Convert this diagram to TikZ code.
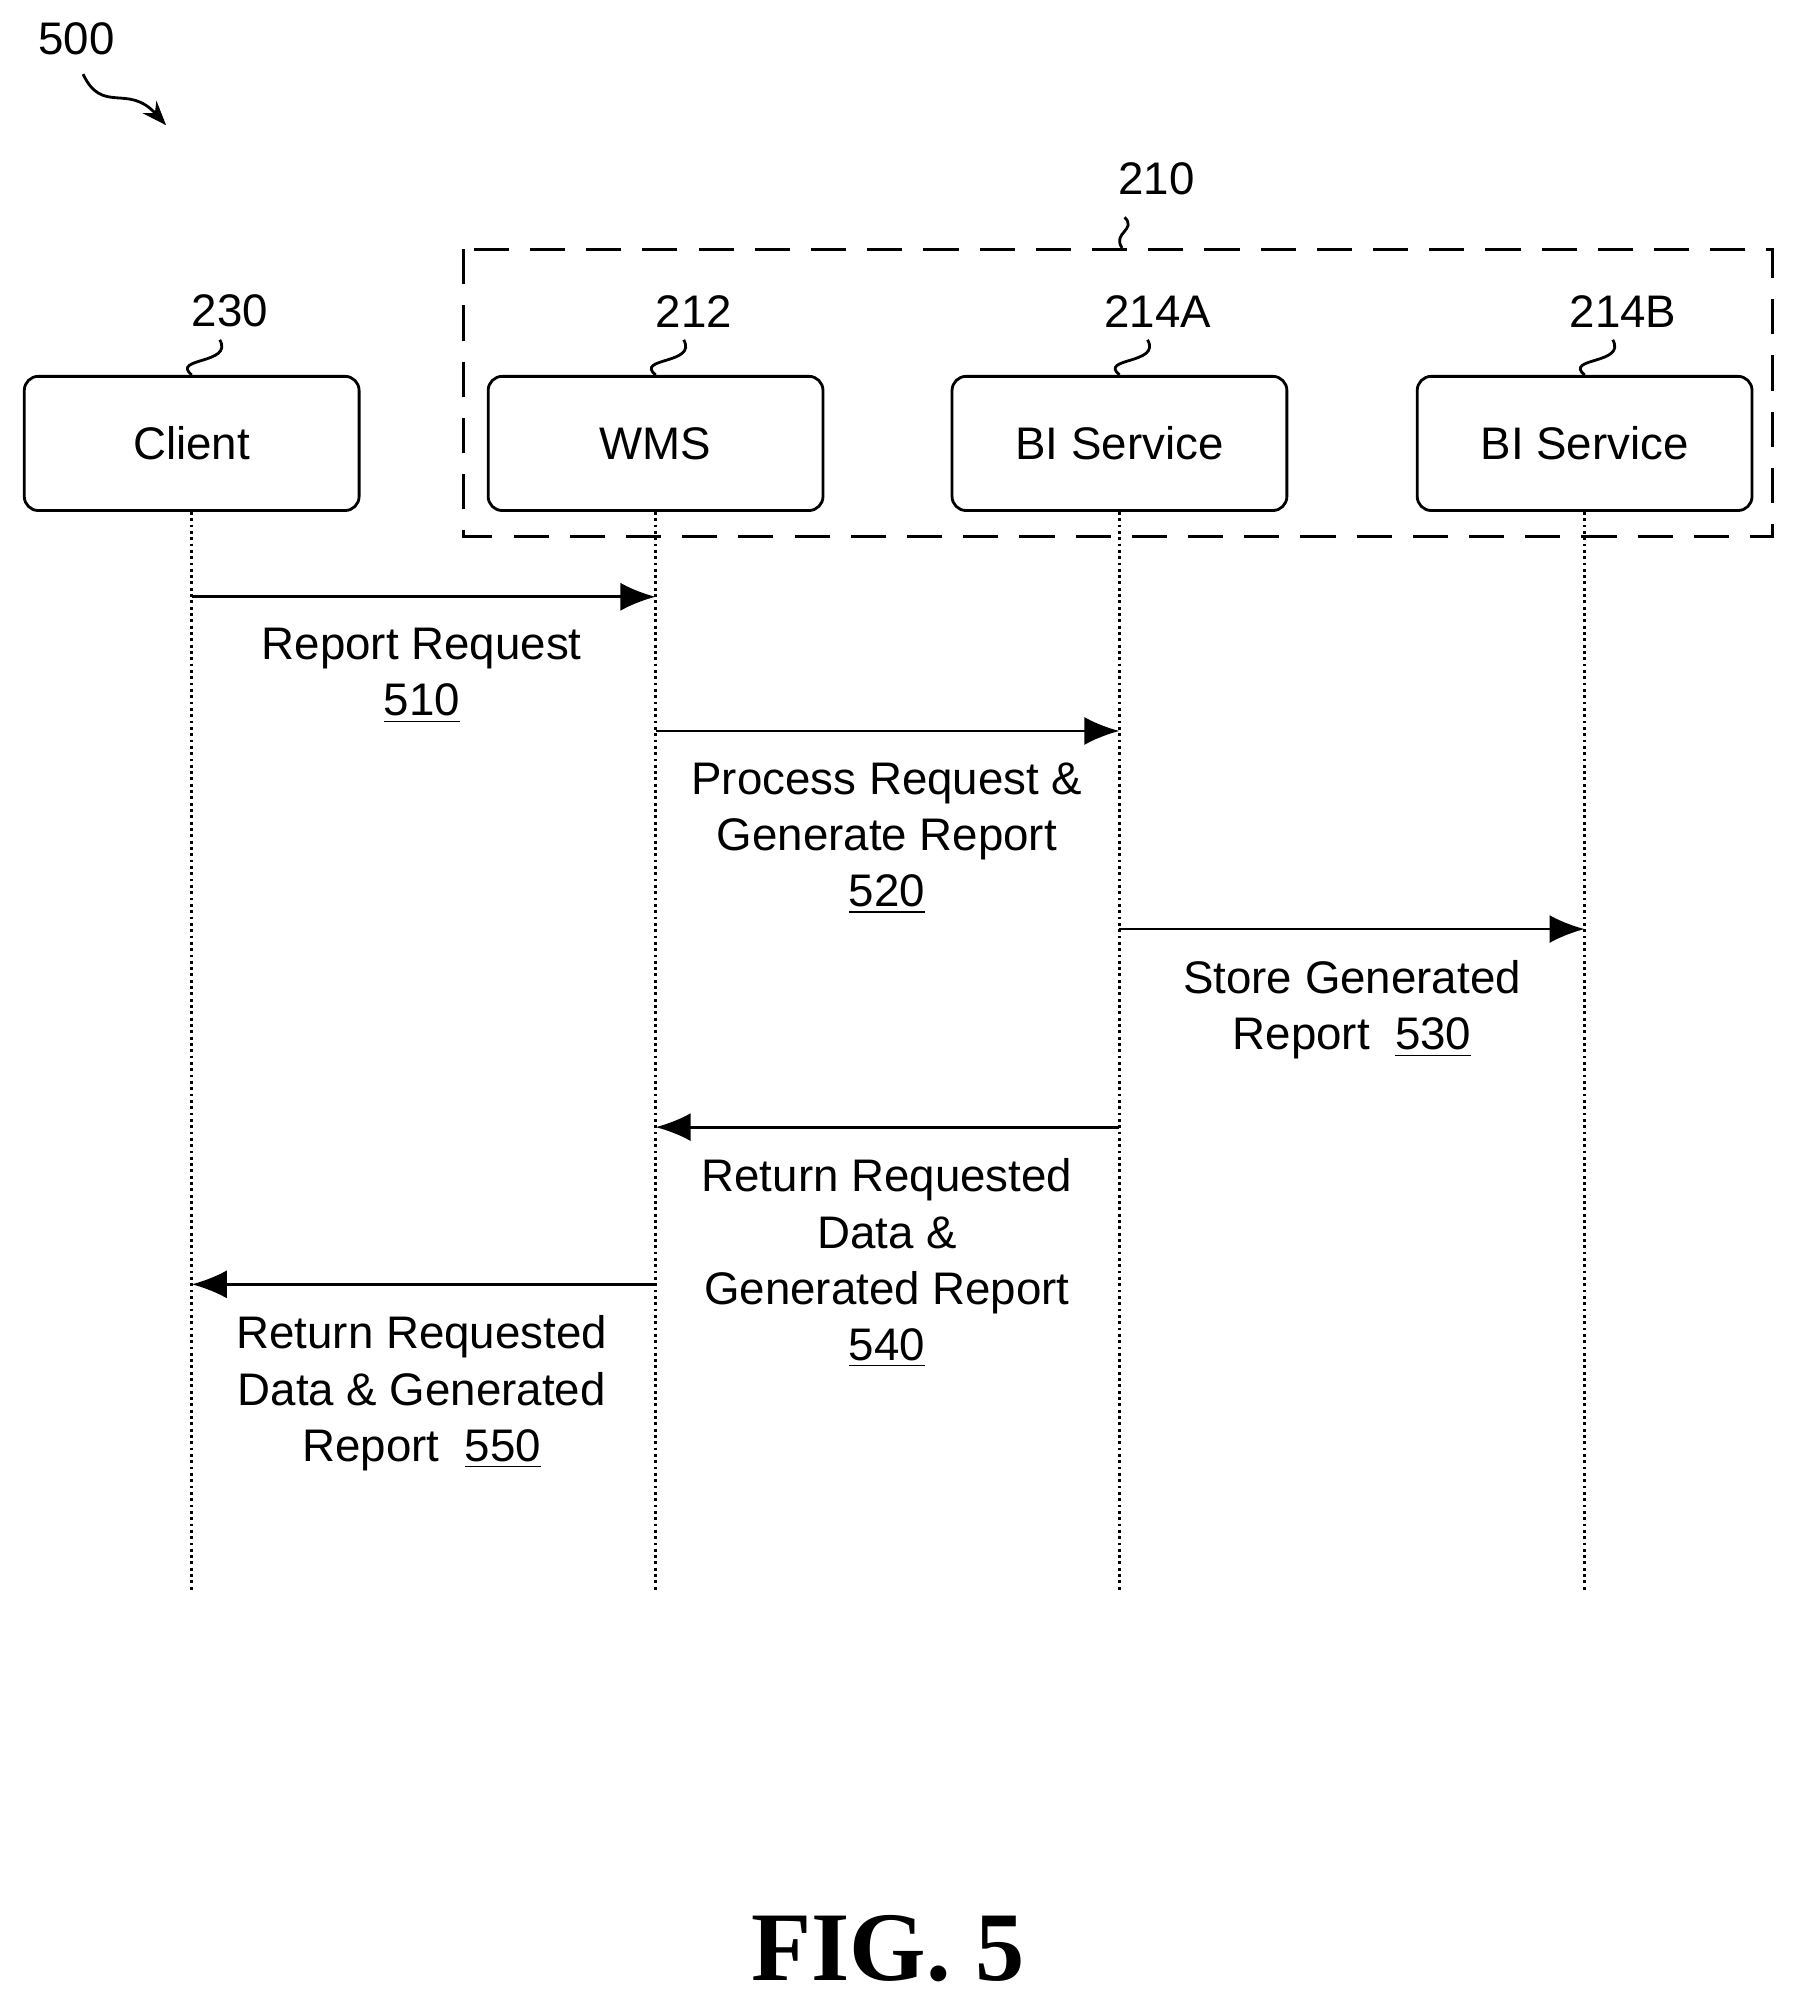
\documentclass[tikz,border=0pt]{standalone}
\usepackage{fontspec}
\setmainfont{Liberation Sans}
\newfontfamily\figfont{Liberation Serif}
\usetikzlibrary{arrows.meta, positioning}

\tikzset{
    actor/.style={draw, thick, rounded corners=4pt, minimum width=262*0.01278cm, minimum height=105*0.01278cm, font=\fontsize{13}{16}\selectfont},
    reflabel/.style={font=\fontsize{13}{16}\selectfont},
    msg/.style={align=center, font=\fontsize{13}{16}\selectfont},
    lifeline/.style={densely dotted, thick},
    call/.style={thick, -{Latex[length=10pt, width=8pt]}},
    squig/.style={thick}
}

\begin{document}
\begin{tikzpicture}[x=0.01278cm, y=-0.01278cm]
            \useasboundingbox (0,0) rectangle (1410,1576);

            % system boundary
            \draw[dashed, thick, dash pattern=on 10pt off 6pt] (363,195) rectangle (1387,420);
            \node (sys_label) [reflabel] at (905,140) {210};
            \draw[squig] (878,194) .. controls (870,182) and (890,180) .. (880,170);

            % actors
            \node (client) [actor] at (150,347) {Client};
            \node (wms) [actor] at (513,347) {WMS};
            \node (bi_a) [actor] at (876,347) {BI Service};
            \node (bi_b) [actor] at (1240,347) {BI Service};

            \foreach \n/\t in {client/230, wms/212, bi_a/214A, bi_b/214B} {
                \node (\n_ref) [reflabel, above=10pt of \n.north, xshift=30*0.01278cm] {\t};
                \draw[squig] (\n.north) .. controls ([xshift=-6pt, yshift=5pt]\n.north) and ([xshift=12pt, yshift=3pt]\n.north) .. ([xshift=8pt, yshift=10pt]\n.north);
            }

            % lifelines
            \coordinate (client_end) at (150,1245);
            \coordinate (wms_end) at (513,1245);
            \coordinate (bi_a_end) at (876,1245);
            \coordinate (bi_b_end) at (1240,1245);
            \draw[lifeline] (client) -- (client_end);
            \draw[lifeline] (wms) -- (wms_end);
            \draw[lifeline] (bi_a) -- (bi_a_end);
            \draw[lifeline] (bi_b) -- (bi_b_end);

            % messages
            \coordinate (m1s) at (150,467);  \coordinate (m1e) at (513,467);
            \coordinate (m2s) at (513,572);  \coordinate (m2e) at (876,572);
            \coordinate (m3s) at (876,727);  \coordinate (m3e) at (1240,727);
            \coordinate (m4s) at (876,882);  \coordinate (m4e) at (513,882);
            \coordinate (m5s) at (513,1005); \coordinate (m5e) at (150,1005);
            \draw[call] (m1s) -- (m1e);
            \draw[call] (m2s) -- (m2e);
            \draw[call] (m3s) -- (m3e);
            \draw[call] (m4s) -- (m4e);
            \draw[call] (m5s) -- (m5e);

            \node (txt510) [msg, anchor=north] at (330,482) {Report Request\\ \underline{510}};
            \node (txt520) [msg, anchor=north] at (694,587) {Process Request \&\\ Generate Report\\ \underline{520}};
            \node (txt530) [msg, anchor=north] at (1058,742) {Store Generated\\ Report\ \ \underline{530}};
            \node (txt540) [msg, anchor=north] at (694,897) {Return Requested\\ Data \&\\ Generated Report\\ \underline{540}};
            \node (txt550) [msg, anchor=north] at (330,1020) {Return Requested\\ Data \& Generated\\ Report\ \ \underline{550}};

            % figure number
            \node (fig_ref) [reflabel] at (60,30) {500};
            \coordinate (fig_arrow_end) at (130,98);
            \draw[squig, -{Stealth[length=7pt]}] (65,58) .. controls (80,90) and (100,65) .. (fig_arrow_end);
            \node (caption) [font=\figfont\bfseries\fontsize{28}{30}\selectfont] at (695,1525) {FIG. 5};
\end{tikzpicture}
\end{document}
